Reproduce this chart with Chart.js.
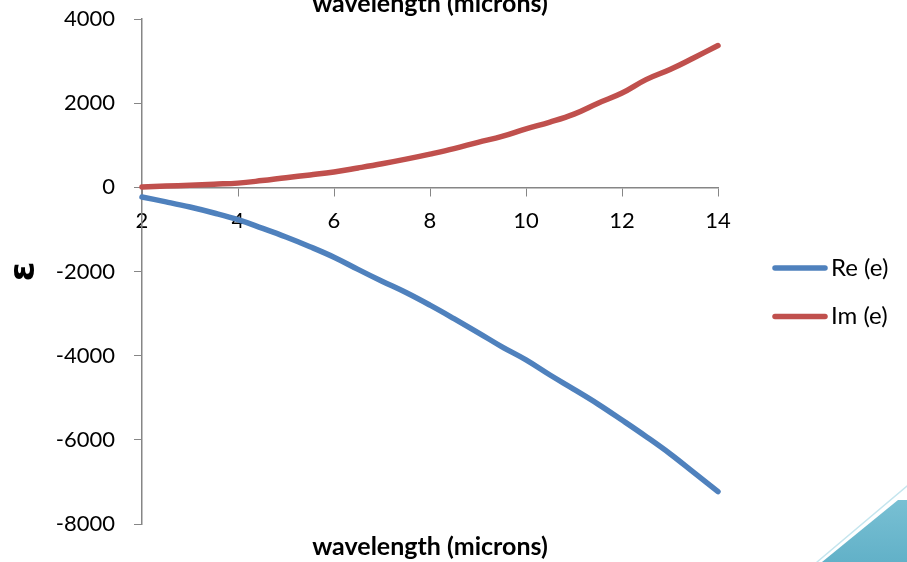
<!DOCTYPE html>
<html>
<head>
<meta charset="utf-8">
<script src="https://cdn.jsdelivr.net/npm/chart.js@4.4.1/dist/chart.umd.min.js"></script>
<style>
  body { margin: 0; background: #fff; }
  canvas { display: block; }
</style>
</head>
<body>
<canvas id="graph" width="907" height="562"></canvas>
<script>
// values
const wavelength = [2, 2.5, 3, 3.5, 4, 4.5, 5, 5.5, 6, 6.5, 7, 7.5, 8, 8.5, 9, 9.5, 10, 10.5, 11, 11.5, 12, 12.5, 13, 13.5, 14];
const reEps = [-230, -345, -468, -610, -770, -970, -1180, -1410, -1660, -1950, -2230, -2500, -2800, -3120, -3450, -3790, -4100, -4460, -4800, -5150, -5530, -5920, -6330, -6780, -7230];
const imEps = [10, 30, 50, 75, 100, 160, 230, 295, 365, 460, 560, 670, 790, 920, 1070, 1210, 1390, 1550, 1740, 2000, 2240, 2560, 2800, 3080, 3370];
const seriesNames = ['Re (e)', 'Im (e)'];
const seriesColors = ['#4F81BD', '#C0504D'];
const xTitle = 'wavelength (microns)';
const yTitle = 'ε';

const FONT = 'Lato, "Open Sans", sans-serif';
const AXIS = '#868686';

function points(ys) {
    return wavelength.map((x, i) => ({x: x, y: ys[i]}));
}

// titles, legend and the corner decoration
const decor = {
    id: 'decor',
    afterDraw(chart) {
        const ctx = chart.ctx;
        ctx.save();
        ctx.fillStyle = '#000';
        ctx.textAlign = 'center';
        ctx.textBaseline = 'alphabetic';
        ctx.font = 'bold 25px ' + FONT;
        ctx.fillText(xTitle, 430, 12);
        ctx.fillText(xTitle, 430, 555);

        chart.data.datasets.forEach((ds, i) => {
            const y = 268 + i * 48.5;
            ctx.strokeStyle = ds.borderColor;
            ctx.lineWidth = 5.5;
            ctx.lineCap = 'round';
            ctx.beginPath();
            ctx.moveTo(775, y);
            ctx.lineTo(825, y);
            ctx.stroke();
            ctx.fillStyle = '#000';
            ctx.font = '24px ' + FONT;
            ctx.textAlign = 'left';
            ctx.textBaseline = 'middle';
            ctx.fillText(ds.label, 831, y);
        });

        const g = ctx.createLinearGradient(0, 490, 0, 562);
        g.addColorStop(0, '#7CC2D5');
        g.addColorStop(1, '#62B1C8');
        ctx.fillStyle = g;
        ctx.beginPath();
        ctx.moveTo(822, 562);
        ctx.lineTo(898, 500);
        ctx.lineTo(907, 500);
        ctx.lineTo(907, 562);
        ctx.closePath();
        ctx.fill();
        ctx.strokeStyle = '#C4E5EE';
        ctx.lineWidth = 1.5;
        ctx.beginPath();
        ctx.moveTo(817, 562);
        ctx.lineTo(907, 486);
        ctx.stroke();
        ctx.restore();
    }
};

const chart = new Chart(document.getElementById('graph'), {
    type: 'line',
    data: {
        datasets: [
            {
                label: seriesNames[0],
                data: points(reEps),
                borderColor: seriesColors[0],
                backgroundColor: seriesColors[0],
                borderWidth: 5.5,
                borderCapStyle: 'round',
                pointRadius: 0,
                tension: 0.4,
                clip: false
            },
            {
                label: seriesNames[1],
                data: points(imEps),
                borderColor: seriesColors[1],
                backgroundColor: seriesColors[1],
                borderWidth: 5.5,
                borderCapStyle: 'round',
                pointRadius: 0,
                tension: 0.4,
                clip: false
            }
        ]
    },
    options: {
        responsive: false,
        animation: false,
        layout: {padding: {top: 19, right: 189, bottom: 38, left: 0}},
        plugins: {
            legend: {display: false},
            tooltip: {enabled: false}
        },
        scales: {
            x: {
                type: 'linear',
                position: {y: 0},
                min: 2,
                max: 14,
                ticks: {
                    stepSize: 2,
                    color: '#000',
                    padding: 12,
                    maxRotation: 0,
                    font: {family: FONT, size: 22}
                },
                grid: {drawOnChartArea: false, color: AXIS, tickLength: 8},
                border: {color: AXIS, width: 1.5}
            },
            y: {
                type: 'linear',
                min: -8000,
                max: 4000,
                afterFit: (scale) => {
                    scale.width = 142;
                    scale.paddingTop = 0;
                    scale.paddingBottom = 0;
                },
                ticks: {
                    stepSize: 2000,
                    color: '#000',
                    padding: 19,
                    font: {family: FONT, size: 22},
                    callback: (v) => String(v)
                },
                grid: {drawOnChartArea: false, color: AXIS, tickLength: 8},
                border: {color: AXIS, width: 1.5},
                title: {
                    display: true,
                    text: yTitle,
                    color: '#000',
                    font: {family: 'DejaVu Sans', size: 36, weight: 'bold'},
                    padding: {top: 3, bottom: 0}
                }
            }
        }
    },
    plugins: [decor]
});
</script>
</body>
</html>
